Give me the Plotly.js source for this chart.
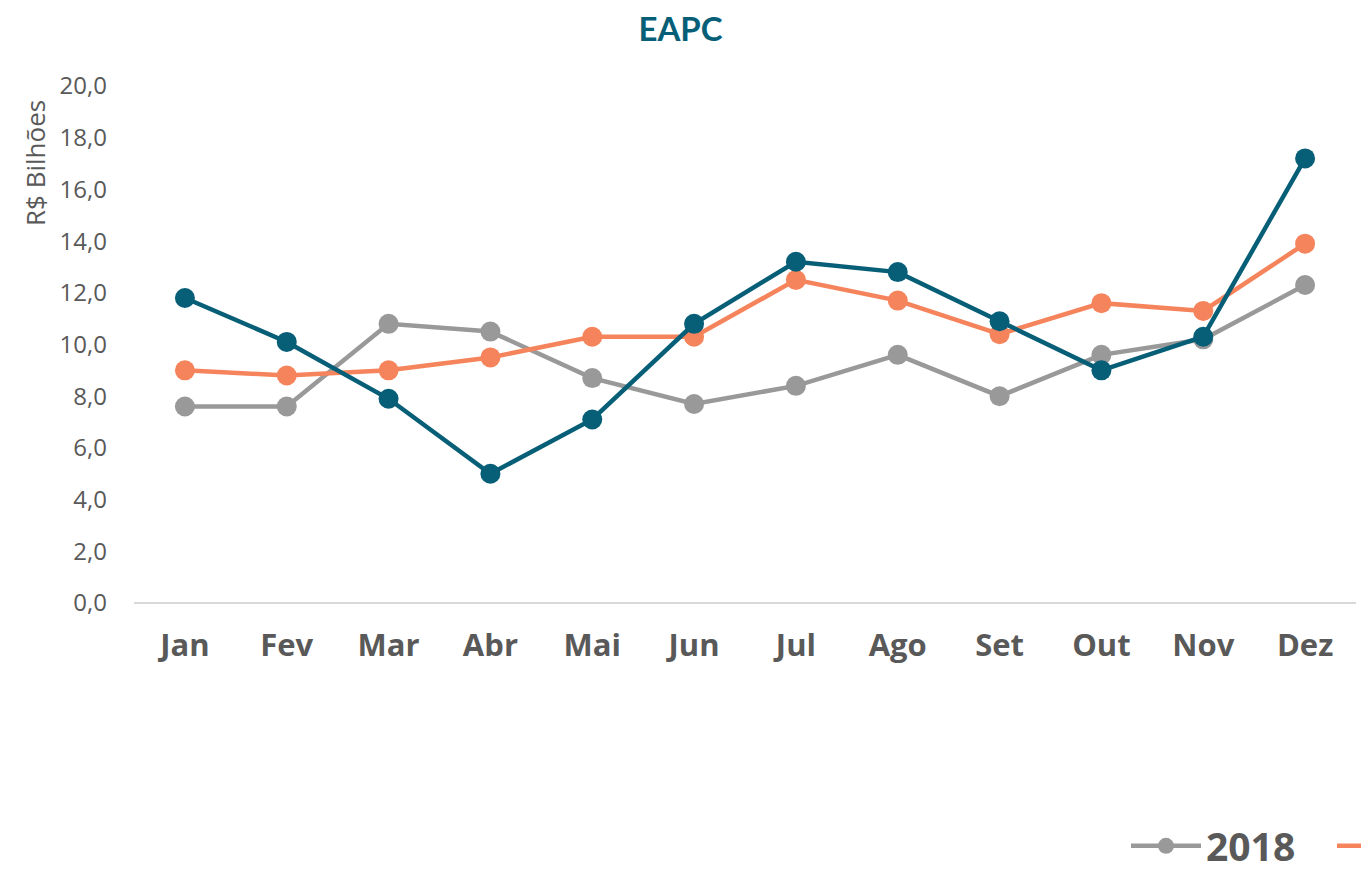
<!DOCTYPE html>
<html>
<head>
<meta charset="utf-8">
<script src="https://cdn.plot.ly/plotly-3.0.1.min.js"></script>
<style>html,body{margin:0;padding:0;background:#fff;}#chart{width:1361px;height:874px;}</style>
</head>
<body>
<div id="chart"></div>
<script>
const months = ["Jan","Fev","Mar","Abr","Mai","Jun","Jul","Ago","Set","Out","Nov","Dez"];
const values2018 = [7.6, 7.6, 10.8, 10.5, 8.7, 7.7, 8.4, 9.6, 8.0, 9.6, 10.2, 12.3];
const values2019 = [9.0, 8.8, 9.0, 9.5, 10.3, 10.3, 12.5, 11.7, 10.4, 11.6, 11.3, 13.9];
const values2020 = [11.8, 10.1, 7.9, 5.0, 7.1, 10.8, 13.2, 12.8, 10.9, 9.0, 10.3, 17.2];
const seriesNames = ["2018", "2019", "2020"];
const yTicks = [0,2,4,6,8,10,12,14,16,18,20];
const yTickLabels = ["0,0","2,0","4,0","6,0","8,0","10,0","12,0","14,0","16,0","18,0","20,0"];
const yTitle = "R$ Bilhões";
const chartTitle = "EAPC";

const colors = ["#999999", "#F5845C", "#075E77"];
const allValues = [values2018, values2019, values2020];

const traces = allValues.map((v, i) => ({
  type: "scatter",
  mode: "lines+markers",
  name: seriesNames[i],
  x: months,
  y: v,
  line: {color: colors[i], width: 4.5},
  marker: {color: colors[i], size: 20},
  cliponaxis: false
}));

const layout = {
  width: 1361,
  height: 874,
  paper_bgcolor: "#ffffff",
  plot_bgcolor: "rgba(0,0,0,0)",
  margin: {l: 134, r: 5, t: 86, b: 271, autoexpand: false},
  title: {
    text: "<b>" + chartTitle + "</b>",
    font: {family: "Lato, 'Open Sans', sans-serif", size: 33, color: "#075E77"},
    x: 0.5, xanchor: "center",
    y: 0.966, yanchor: "middle", yref: "container"
  },
  xaxis: {
    type: "category",
    range: [-0.5, 11.5],
    showgrid: false,
    zeroline: false,
    showline: false,
    ticks: "",
    tickfont: {family: "'Open Sans', sans-serif", size: 31, color: "#595959", weight: "bold"},
    ticklabelstandoff: 21
  },
  yaxis: {
    range: [0, 20],
    tickvals: yTicks,
    ticktext: yTickLabels,
    showgrid: false,
    zeroline: true,
    zerolinecolor: "#D9D9D9",
    zerolinewidth: 2,
    showline: false,
    ticks: "",
    ticklabelstandoff: 26,
    tickfont: {family: "'Open Sans', sans-serif", size: 24, color: "#595959"}
  },
  annotations: [{
    text: yTitle,
    xref: "paper", yref: "paper",
    x: (35 - 134) / 1222, y: (603 - 163) / 517,
    xanchor: "center", yanchor: "middle",
    textangle: -90,
    showarrow: false,
    font: {family: "'Open Sans', sans-serif", size: 26, color: "#595959"}
  }],
  showlegend: true,
  legend: {
    orientation: "h",
    x: (1126 - 134) / 1222,
    xanchor: "left",
    y: -0.47,
    yanchor: "middle",
    font: {family: "'Open Sans', sans-serif", size: 39, color: "#595959", weight: "bold"},
    bgcolor: "rgba(0,0,0,0)",
    itemwidth: 70,
    entrywidth: 121
  }
};

Plotly.newPlot("chart", traces, layout, {displayModeBar: false, staticPlot: true});
</script>
</body>
</html>
